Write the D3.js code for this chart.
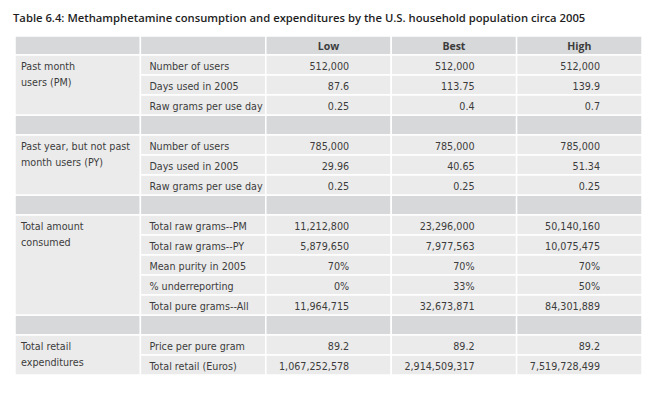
<!DOCTYPE html>
<html><head><meta charset="utf-8">
<script src="https://cdn.jsdelivr.net/npm/d3@7"></script>
<style>
html,body{margin:0;padding:0;background:#fff;}
svg{display:block;}
text{font-family:"Open Sans",sans-serif;}
.b{font-family:"DejaVu Sans",sans-serif;font-size:9.6px;fill:#3c3c3c;}
</style></head>
<body>
<svg id="c" width="663" height="414"></svg>
<script>
const title = "Table 6.4: Methamphetamine consumption and expenditures by the U.S. household population circa 2005";
const scenarios = ["Low", "Best", "High"];
const groups = [
  {name: ["Past month", "users (PM)"], rows: 3},
  {name: ["Past year, but not past", "month users (PY)"], rows: 3},
  {name: ["Total amount", "consumed"], rows: 5},
  {name: ["Total retail", "expenditures"], rows: 2}
];
const measures = [
  "Number of users", "Days used in 2005", "Raw grams per use day",
  "Number of users", "Days used in 2005", "Raw grams per use day",
  "Total raw grams--PM", "Total raw grams--PY", "Mean purity in 2005", "% underreporting", "Total pure grams--All",
  "Price per pure gram", "Total retail (Euros)"
];
const lowValues = ["512,000","87.6","0.25","785,000","29.96","0.25","11,212,800","5,879,650","70%","0%","11,964,715","89.2","1,067,252,578"];
const bestValues = ["512,000","113.75","0.4","785,000","40.65","0.25","23,296,000","7,977,563","70%","33%","32,673,871","89.2","2,914,509,317"];
const highValues = ["512,000","139.9","0.7","785,000","51.34","0.25","50,140,160","10,075,475","70%","50%","84,301,889","89.2","7,519,728,499"];

const svg = d3.select("#c");
const headerFill = "#d6d8da", bodyFill = "#ebebeb", textCol = "#3c3c3c";

const rows = [];
let m = 0;
groups.forEach((g, gi) => {
  for (let i = 0; i < g.rows; i++) {
    rows.push({type: "data", group: gi, idx: m, measure: measures[m],
      vals: [lowValues[m], bestValues[m], highValues[m]]});
    m++;
  }
  if (gi < groups.length - 1) rows.push({type: "gap"});
});

const cols = ["group", "measure", ...scenarios];
const x = d3.scaleBand().domain(cols).range([15, 642]).paddingInner(0);
const y = d3.scaleBand().domain(d3.range(rows.length)).range([55, 375]);
const headerTop = 36;

svg.append("text").attr("x", 13).attr("y", 22).attr("font-size", 11.25).attr("font-weight", 600)
  .attr("fill", "#1e1e1e").text(title);

const cellsG = svg.append("g");
const textG = svg.append("g");
const cell = (cx, cy, w, h, fill) => cellsG.append("rect").attr("x", cx).attr("y", cy).attr("width", w).attr("height", h)
  .attr("fill", fill).attr("stroke", "#fff").attr("stroke-width", 1.5);

cols.forEach(c => cell(x(c), headerTop, x.bandwidth(), y(0) - headerTop, headerFill));
scenarios.forEach(s => {
  textG.append("text").attr("x", x(s) + x.bandwidth() / 2).attr("y", 49.5).attr("text-anchor", "middle")
    .attr("font-size", 10.5).attr("font-weight", 700).attr("fill", textCol).text(s);
});

rows.forEach((r, i) => {
  if (r.type === "gap") cols.forEach(c => cell(x(c), y(i), x.bandwidth(), y.bandwidth(), headerFill));
});
groups.forEach((gr, gi) => {
  const idxs = rows.map((r, i) => r.type === "data" && r.group === gi ? i : -1).filter(i => i >= 0);
  const top = y(idxs[0]), bot = y(idxs[idxs.length - 1]) + y.bandwidth();
  cell(x("group"), top, x.bandwidth(), bot - top, bodyFill);
  gr.name.forEach((ln, li) => {
    textG.append("text").attr("class", "b").attr("x", x("group") + 6).attr("y", top + 15 + li * 15.5).text(ln);
  });
});
rows.forEach((r, i) => {
  if (r.type !== "data") return;
  cell(x("measure"), y(i), x.bandwidth(), y.bandwidth(), bodyFill);
  textG.append("text").attr("class", "b").attr("x", x("measure") + 9).attr("y", y(i) + 15).text(r.measure);
  scenarios.forEach((s, si) => {
    cell(x(s), y(i), x.bandwidth(), y.bandwidth(), bodyFill);
    textG.append("text").attr("class", "b").attr("x", x(s) + x.bandwidth() - 42).attr("y", y(i) + 15)
      .attr("text-anchor", "end").text(r.vals[si]);
  });
});
</script>
</body></html>
